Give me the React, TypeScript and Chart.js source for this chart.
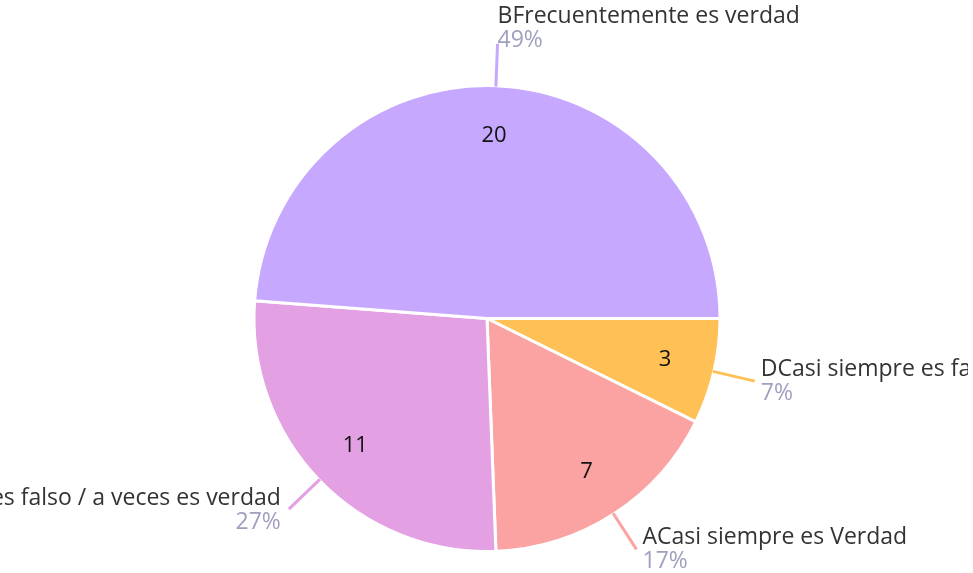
import React, { useEffect, useRef } from "react";
import { Chart, registerables } from "chart.js";

Chart.register(...registerables);

const labels = [
  "DCasi siempre es falso",
  "ACasi siempre es Verdad",
  "CA veces es falso / a veces es verdad",
  "BFrecuentemente es verdad",
];
const values = [3, 7, 11, 20];
const percents = ["7%", "17%", "27%", "49%"];
const colors = ["#ffc155", "#fba3a3", "#e3a0e3", "#c7a8ff"];

const FONT = "'Open Sans'";

const outsideLabels = {
  id: "outsideLabels",
  afterDatasetsDraw(chart: any) {
    const ctx = chart.ctx;
    const meta = chart.getDatasetMeta(0);
    meta.data.forEach((arc: any, i: number) => {
      const { x, y, startAngle, endAngle, outerRadius } = arc.getProps(
        ["x", "y", "startAngle", "endAngle", "outerRadius"],
        true
      );
      const mid = (startAngle + endAngle) / 2;
      const c = Math.cos(mid);
      const s = Math.sin(mid);
      ctx.save();
      // inner value
      ctx.fillStyle = "#111";
      ctx.font = `22px ${FONT}`;
      ctx.textAlign = "center";
      ctx.textBaseline = "middle";
      const ir = outerRadius * 0.785;
      ctx.fillText(String(values[i]), x + c * ir, y + s * ir);
      // leader line
      const r0 = outerRadius - 1;
      const r1 = outerRadius + 42;
      const ex = x + c * r1;
      const ey = y + s * r1;
      ctx.strokeStyle = colors[i];
      ctx.lineWidth = 3;
      ctx.beginPath();
      ctx.moveTo(x + c * r0, y + s * r0);
      ctx.lineTo(ex, ey);
      ctx.stroke();
      // texts
      ctx.textBaseline = "alphabetic";
      let tx: number, lb: number, pb: number;
      if (Math.abs(c) < 0.35) {
        ctx.textAlign = "left";
        tx = ex;
        lb = ey - 21;
        pb = ey + 3;
      } else if (c > 0) {
        ctx.textAlign = "left";
        tx = ex + 6;
        lb = ey - 5;
        pb = ey + 19;
      } else {
        ctx.textAlign = "right";
        tx = ex - 8;
        lb = ey - 4;
        pb = ey + 20;
      }
      ctx.fillStyle = "#333333";
      ctx.font = `23px ${FONT}`;
      ctx.fillText(labels[i], tx, lb);
      ctx.fillStyle = "#9f9fbf";
      ctx.font = `23px ${FONT}`;
      ctx.fillText(percents[i], tx, pb);
      ctx.restore();
    });
  },
};

export default function App() {
  const ref = useRef<HTMLCanvasElement | null>(null);
  useEffect(() => {
    if (!ref.current) return;
    const chart = new Chart(ref.current, {
      type: "pie",
      data: {
        labels,
        datasets: [
          {
            data: values,
            backgroundColor: colors,
            borderColor: "#ffffff",
            borderWidth: 3,
          },
        ],
      },
      options: {
        animation: false,
        responsive: false,
        rotation: 90,
        layout: { padding: { top: 84, bottom: 20, left: 6, right: 0 } },
        plugins: {
          legend: { display: false },
          tooltip: { enabled: false },
        },
      },
      plugins: [outsideLabels],
    });
    return () => chart.destroy();
  }, []);
  return (
    <canvas
      ref={ref}
      width={968}
      height={573}
      style={{ position: "fixed", left: 0, top: 0, width: 968, height: 573 }}
    />
  );
}
